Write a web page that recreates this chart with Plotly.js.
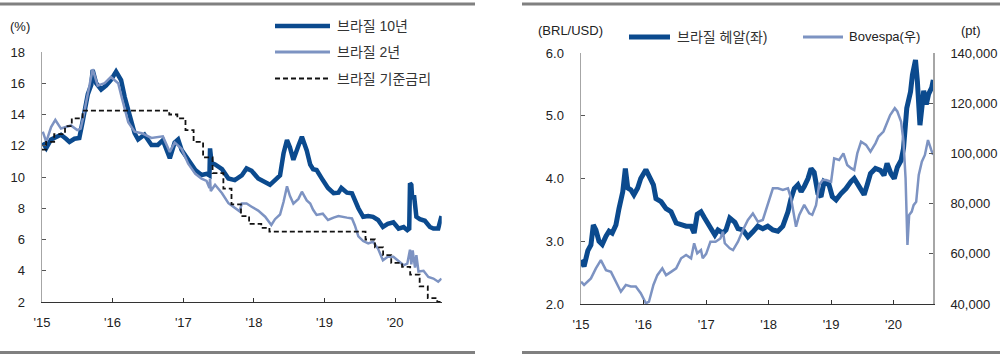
<!DOCTYPE html>
<html>
<head>
<meta charset="utf-8">
<script src="https://cdn.plot.ly/plotly-3.0.1.min.js"></script>
<style>html,body{margin:0;padding:0;background:#fff;}#chart{width:1000px;height:357px;}</style>
</head>
<body>
<div id="chart"></div>
<script>
// ---------- Left chart: Brazil rates (%) ----------
const y10Dates = ['2015-01-05','2015-01-23','2015-02-17','2015-03-14','2015-04-09','2015-05-05','2015-05-23','2015-06-18','2015-07-13','2015-07-31','2015-08-26','2015-09-13','2015-09-20','2015-10-08','2015-11-03','2015-11-28','2015-12-23','2016-01-19','2016-02-14','2016-03-04','2016-03-29','2016-04-24','2016-05-12','2016-06-14','2016-07-20','2016-08-22','2016-09-17','2016-10-23','2016-11-17','2016-12-05','2016-12-23','2017-01-26','2017-03-04','2017-04-05','2017-05-01','2017-05-16','2017-05-19','2017-05-27','2017-06-14','2017-07-20','2017-08-22','2017-09-24','2017-10-30','2017-11-24','2017-12-20','2018-01-23','2018-02-28','2018-03-25','2018-04-20','2018-05-16','2018-06-03','2018-06-21','2018-07-06','2018-07-24','2018-08-19','2018-09-06','2018-10-01','2018-10-19','2018-11-03','2018-11-21','2018-12-23','2019-01-19','2019-02-17','2019-03-14','2019-03-29','2019-04-27','2019-05-23','2019-06-07','2019-06-25','2019-07-20','2019-08-15','2019-09-09','2019-10-05','2019-10-30','2019-11-24','2019-12-23','2020-01-19','2020-02-14','2020-03-04','2020-03-14','2020-03-18','2020-03-25','2020-03-29','2020-04-09','2020-04-20','2020-05-08','2020-06-03','2020-06-29','2020-07-17','2020-08-11','2020-08-28'];
const y10Values = [12.2,11.85,12.4,12.55,12.7,12.45,12.25,12.45,12.5,13.6,15.3,15.9,16.85,16.0,15.6,15.85,16.2,16.75,16.2,15.1,13.9,12.8,12.4,12.7,12.05,12.05,12.35,11.2,12.2,12.4,11.73,11.1,10.45,10.13,10.2,10.1,11.83,10.9,10.8,10.5,9.9,9.8,10.1,10.55,10.4,9.9,9.7,9.5,9.8,10.1,11.5,12.37,11.9,11.1,12.0,12.58,11.7,10.8,10.5,10.45,9.8,9.3,8.96,9.0,9.3,9.0,8.96,8.5,8.0,7.45,7.5,7.45,7.25,6.8,7.0,7.1,6.7,6.8,6.6,6.7,9.6,9.5,8.7,8.7,7.45,7.3,7.2,6.8,6.7,6.7,7.5];

const y2Dates = ['2015-01-05','2015-01-23','2015-02-17','2015-03-11','2015-04-09','2015-05-05','2015-05-31','2015-07-02','2015-07-20','2015-07-31','2015-08-26','2015-09-20','2015-10-16','2015-11-21','2015-12-23','2016-01-30','2016-02-17','2016-03-22','2016-04-24','2016-05-31','2016-07-20','2016-09-17','2016-10-23','2016-11-17','2016-12-23','2017-01-26','2017-03-04','2017-04-05','2017-05-01','2017-05-16','2017-05-19','2017-05-23','2017-06-14','2017-07-20','2017-08-22','2017-09-24','2017-10-19','2017-10-30','2017-11-24','2017-12-20','2018-01-23','2018-02-28','2018-04-01','2018-04-20','2018-05-16','2018-06-03','2018-06-21','2018-07-06','2018-07-24','2018-08-19','2018-09-06','2018-10-01','2018-10-19','2018-11-03','2018-11-21','2018-12-23','2019-01-19','2019-02-17','2019-03-14','2019-04-27','2019-05-23','2019-06-07','2019-06-25','2019-07-20','2019-08-15','2019-09-09','2019-10-05','2019-10-30','2019-11-24','2019-12-23','2020-01-19','2020-02-14','2020-03-04','2020-03-18','2020-03-25','2020-04-01','2020-04-13','2020-04-20','2020-05-01','2020-05-27','2020-06-21','2020-07-17','2020-08-11','2020-08-28'];
const y2Values = [12.9,12.25,13.2,13.65,13.1,13.2,13.3,13.0,13.1,13.7,15.3,16.9,15.85,16.0,16.4,16.0,15.1,13.5,12.9,12.8,12.5,12.6,11.6,12.2,11.8,10.85,10.2,9.9,9.75,9.3,9.9,9.1,9.5,8.96,8.32,8.0,7.8,8.3,8.3,8.1,7.85,7.46,6.93,7.3,7.6,8.4,9.4,8.8,8.3,8.6,9.06,8.5,8.3,7.9,7.57,7.65,7.25,7.4,7.5,7.4,7.35,6.9,6.2,5.9,5.75,5.85,5.4,4.67,4.9,4.9,4.6,4.35,4.45,5.35,4.4,5.3,4.2,5.0,3.95,4.0,3.6,3.5,3.3,3.5];

const selicDates = ['2015-01-01','2015-01-22','2015-03-05','2015-04-30','2015-06-04','2015-07-30','2016-10-20','2016-12-01','2017-01-12','2017-02-23','2017-04-13','2017-06-01','2017-07-27','2017-09-07','2017-10-26','2017-12-07','2018-02-08','2018-03-22','2019-08-01','2019-09-19','2019-10-31','2019-12-12','2020-02-06','2020-03-19','2020-05-07','2020-06-18','2020-08-06','2020-08-28'];
const selicValues = [11.75,12.25,12.75,13.25,13.75,14.25,14.0,13.75,13.0,12.25,11.25,10.25,9.25,8.25,7.5,7.0,6.75,6.5,6.0,5.5,5.0,4.5,4.25,3.75,3.0,2.25,2.0,2.0];

const leftYTicks = [2,4,6,8,10,12,14,16,18];
const leftNames = ['브라질 10년','브라질 2년','브라질 기준금리'];

// ---------- Right chart: BRL/USD (left) and Bovespa (right) ----------
const brlDates = ['2015-01-01','2015-01-19','2015-02-10','2015-02-28','2015-03-14','2015-03-29','2015-04-16','2015-05-05','2015-05-27','2015-06-14','2015-07-02','2015-07-24','2015-08-11','2015-09-02','2015-09-17','2015-10-01','2015-10-19','2015-11-06','2015-11-28','2015-12-16','2016-01-15','2016-02-06','2016-02-28','2016-03-14','2016-04-13','2016-05-12','2016-06-10','2016-07-10','2016-08-08','2016-09-06','2016-10-05','2016-10-23','2016-11-10','2016-12-02','2016-12-23','2017-01-23','2017-02-21','2017-03-11','2017-04-09','2017-04-27','2017-05-19','2017-06-18','2017-07-06','2017-08-04','2017-09-02','2017-10-01','2017-10-30','2017-11-28','2017-12-27','2018-01-26','2018-02-24','2018-03-25','2018-04-24','2018-05-12','2018-05-31','2018-06-21','2018-07-10','2018-07-28','2018-08-19','2018-09-06','2018-09-24','2018-10-16','2018-11-03','2018-11-21','2018-12-20','2019-01-08','2019-01-30','2019-02-28','2019-03-29','2019-04-27','2019-05-16','2019-06-14','2019-07-13','2019-07-31','2019-08-19','2019-09-17','2019-10-16','2019-11-06','2019-11-24','2019-12-16','2020-01-05','2020-01-23','2020-02-14','2020-02-28','2020-03-11','2020-03-18','2020-04-09','2020-04-20','2020-05-08','2020-05-19','2020-06-03','2020-06-25','2020-07-10','2020-07-24','2020-08-11','2020-08-20'];
const brlValues = [2.70,2.60,2.85,2.94,3.26,3.18,3.0,2.95,3.08,3.16,3.13,3.26,3.52,3.79,4.16,3.85,3.82,3.74,3.85,4.0,4.14,4.03,3.9,3.68,3.63,3.52,3.47,3.29,3.26,3.24,3.24,3.13,3.43,3.47,3.37,3.21,3.1,3.18,3.13,3.18,3.37,3.3,3.2,3.18,3.07,3.15,3.24,3.2,3.24,3.18,3.16,3.24,3.47,3.68,3.84,3.9,3.79,3.87,4.0,4.16,4.1,3.76,3.71,3.95,3.9,3.71,3.66,3.76,3.84,3.95,4.0,3.87,3.74,3.9,4.08,4.16,4.13,4.05,4.24,4.08,4.0,4.18,4.29,4.48,4.8,5.12,5.38,5.65,5.89,5.55,4.85,5.4,5.18,5.35,5.45,5.57];

const bovDates = ['2015-01-01','2015-01-19','2015-02-28','2015-03-29','2015-04-27','2015-05-27','2015-06-25','2015-07-24','2015-08-22','2015-09-20','2015-10-19','2015-11-17','2015-12-16','2016-01-15','2016-02-02','2016-02-28','2016-03-22','2016-04-20','2016-05-12','2016-06-10','2016-07-10','2016-08-08','2016-09-06','2016-10-05','2016-10-23','2016-11-10','2016-12-02','2016-12-12','2017-01-01','2017-01-26','2017-02-25','2017-03-25','2017-04-09','2017-04-20','2017-05-19','2017-06-07','2017-07-06','2017-08-04','2017-09-02','2017-10-01','2017-10-30','2017-11-28','2017-12-27','2018-01-26','2018-02-24','2018-03-25','2018-04-24','2018-05-12','2018-06-10','2018-06-29','2018-07-28','2018-08-26','2018-09-13','2018-10-05','2018-10-23','2018-11-13','2018-12-02','2019-01-01','2019-01-19','2019-02-17','2019-03-14','2019-04-05','2019-04-27','2019-05-16','2019-06-03','2019-06-25','2019-07-24','2019-08-19','2019-09-17','2019-10-05','2019-11-03','2019-11-24','2019-12-12','2020-01-08','2020-01-23','2020-02-14','2020-02-28','2020-03-11','2020-03-18','2020-03-22','2020-04-01','2020-04-16','2020-04-27','2020-05-12','2020-05-27','2020-06-14','2020-07-02','2020-07-20','2020-08-08','2020-08-19'];
const bovValues = [48900,47600,50200,54200,57500,53500,52800,49000,44900,47600,47000,47000,44300,40300,40900,47600,51500,54200,51500,52800,54200,58200,59500,58200,64200,60200,61500,58200,60000,64800,64800,66100,68800,64200,62200,61500,64800,69500,73500,76100,72800,73500,79400,86100,86100,85400,86100,82100,70800,75500,79500,76100,75500,79400,87400,89400,89400,88700,98000,97400,100000,95400,94100,93400,100000,104700,103400,100700,104000,106700,108700,112600,115300,118000,116700,112600,104700,90100,70100,63500,75500,76800,79400,80700,91400,96700,99400,105300,101400,99400];

const rightLeftTicks = [2,3,4,5,6];
const rightRightTicks = [40000,60000,80000,100000,120000,140000];
const rightNames = ['브라질 헤알(좌)','Bovespa(우)'];

const xTickDates = ['2015-01-01','2016-01-01','2017-01-01','2018-01-01','2019-01-01','2020-01-01'];
const xTickLabels = ["'15","'16","'17","'18","'19","'20"];

// ---------- styles ----------
const DARK = '#0b4a8e';
const LIGHT = '#7d93c2';
const FONT = 'Liberation Sans, Arial, Noto Sans CJK KR, sans-serif';
const KFONT = 'Liberation Sans, Noto Sans CJK KR, sans-serif';

const traces = [
  {x:y10Dates, y:y10Values, name:leftNames[0], type:'scatter', mode:'lines', xaxis:'x', yaxis:'y', line:{color:DARK, width:4.5}},
  {x:y2Dates, y:y2Values, name:leftNames[1], type:'scatter', mode:'lines', xaxis:'x', yaxis:'y', line:{color:LIGHT, width:2.5}},
  {x:selicDates, y:selicValues, name:leftNames[2], type:'scatter', mode:'lines', xaxis:'x', yaxis:'y', line:{color:'#111', width:1.8, dash:'5px,3px', shape:'hv'}},
  {x:bovDates, y:bovValues, name:rightNames[1], type:'scatter', mode:'lines', xaxis:'x2', yaxis:'y3', line:{color:LIGHT, width:2.5}},
  {x:brlDates, y:brlValues, name:rightNames[0], type:'scatter', mode:'lines', xaxis:'x2', yaxis:'y2', line:{color:DARK, width:5}}
];

const xCommon = {
  type:'date', tickvals:xTickDates, ticktext:xTickLabels,
  ticks:'inside', ticklen:4, tickcolor:'#333', tickwidth:1,
  showline:true, linecolor:'#333', linewidth:1,
  showgrid:false, zeroline:false, fixedrange:true,
  tickfont:{family:FONT, size:13, color:'#222'}, ticklabelstandoff:8
};
const yCommon = {
  ticks:'inside', ticklen:4, tickcolor:'#555', tickwidth:1,
  showline:true, linecolor:'#a6a6a6', linewidth:1.5,
  showgrid:false, zeroline:false, fixedrange:true,
  tickfont:{family:FONT, size:13, color:'#222'}, ticklabelstandoff:13
};

const px = v => v/1000;
const py = v => 1 - v/357;

function hline(x0, x1, y, color, width, dash){
  return {type:'line', xref:'paper', yref:'paper', x0:px(x0), x1:px(x1), y0:py(y), y1:py(y), line:{color:color, width:width, dash:dash||'solid'}};
}
function label(text, x, y, anchor, size, color){
  return {text:text, xref:'paper', yref:'paper', x:px(x), y:py(y), xanchor:anchor, yanchor:'middle', showarrow:false, font:{family:KFONT, size:size, color:color||'#222'}};
}

const layout = {
  width:1000, height:357,
  margin:{l:0, r:0, t:0, b:0},
  paper_bgcolor:'#ffffff', plot_bgcolor:'rgba(0,0,0,0)',
  showlegend:false,
  font:{family:FONT, size:13, color:'#222'},
  xaxis:Object.assign({}, xCommon, {domain:[0.042, 0.4417], anchor:'y', range:['2015-01-01','2020-08-29']}),
  yaxis:Object.assign({}, yCommon, {domain:[py(302), py(52)], anchor:'x', range:[2,18], tickvals:leftYTicks}),
  xaxis2:Object.assign({}, xCommon, {domain:[0.581, 0.9333], anchor:'y2', range:['2015-01-01','2020-08-20']}),
  yaxis2:Object.assign({}, yCommon, {domain:[py(304), py(53)], anchor:'x2', range:[2,6], tickvals:rightLeftTicks, tickformat:'.1f'}),
  yaxis3:Object.assign({}, yCommon, {overlaying:'y2', anchor:'x2', side:'right', range:[40000,140000], tickvals:rightRightTicks, tickformat:',d'}),
  shapes:[
    hline(0, 475, 4, '#808080', 3),
    hline(0, 475, 352.5, '#808080', 3),
    hline(522, 1000, 4, '#808080', 3),
    hline(522, 1000, 352.5, '#808080', 3),
    // left legend swatches
    hline(275, 330, 26, DARK, 4.5),
    hline(275, 330, 52, LIGHT, 3),
    hline(275, 330, 78.5, '#111', 1.8, '5px,3px'),
    // right legend swatches
    hline(629, 670, 37, DARK, 5),
    hline(803, 843, 37, LIGHT, 3)
  ],
  annotations:[
    label('(%)', 20, 27, 'center', 13),
    label('(BRL/USD)', 570, 30, 'center', 13),
    label('(pt)', 971, 30, 'center', 13),
    label(leftNames[0], 335, 26, 'left', 14, '#333'),
    label(leftNames[1], 335, 52, 'left', 14, '#333'),
    label(leftNames[2], 335, 78.5, 'left', 14, '#333'),
    label(rightNames[0], 675, 37, 'left', 14, '#333'),
    label(rightNames[1], 847, 37, 'left', 13, '#222')
  ]
};

Plotly.newPlot('chart', traces, layout, {displayModeBar:false, staticPlot:true});
</script>
</body>
</html>
